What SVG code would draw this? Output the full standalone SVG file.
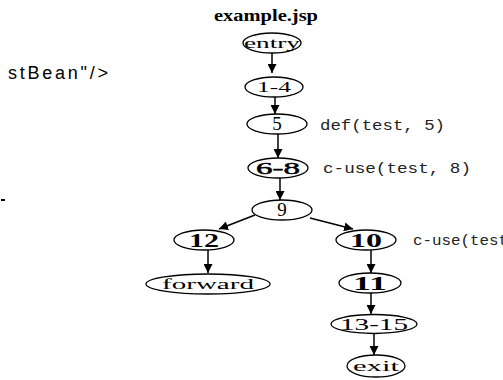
<svg xmlns="http://www.w3.org/2000/svg" width="503" height="380" viewBox="0 0 503 380">
<style>
  .node ellipse { fill: #fff; stroke: #000; stroke-width: 1.3; }
  .nl { font-family: "Liberation Serif", "Times New Roman", serif; font-size: 15px; text-anchor: middle; fill: #000; }
  .nb { font-family: "Liberation Serif", "Times New Roman", serif; font-size: 18px; font-weight: bold; text-anchor: middle; fill: #000; }
  .nm { font-family: "Liberation Serif", "Times New Roman", serif; font-size: 17px; text-anchor: middle; fill: #000; }
  .big { font-size: 19px; }
  .lab { font-family: "Liberation Mono", "Courier New", monospace; font-size: 15px; fill: #222; }
  .edge { stroke: #000; stroke-width: 1.5; fill: none; marker-end: url(#ah); }
</style>
<defs>
  <marker id="ah" viewBox="0 0 10 10" refX="10" refY="5" markerWidth="9" markerHeight="9" markerUnits="userSpaceOnUse" orient="auto">
    <path d="M0,0 L10,5 L0,10 z" fill="#000"/>
  </marker>
</defs>
<rect width="503" height="380" fill="#fff"/>
<text x="266" y="21" font-family="Liberation Serif, serif" font-size="16" font-weight="bold" text-anchor="middle" textLength="104" lengthAdjust="spacingAndGlyphs">example.jsp</text>
<text x="8" y="79" font-family="Liberation Sans, Arial, sans-serif" font-size="18" textLength="100" lengthAdjust="spacing">stBean"/&gt;</text>
<rect x="1" y="199" width="4" height="2" fill="#000"/>

<g id="connectors">
  <line class="edge" x1="272" y1="53" x2="272" y2="73"/>
  <line class="edge" x1="275" y1="97" x2="275" y2="114"/>
  <line class="edge" x1="278" y1="134" x2="278" y2="158"/>
  <line class="edge" x1="280" y1="178" x2="280" y2="200"/>
  <line class="edge" x1="255" y1="215" x2="219" y2="229"/>
  <line class="edge" x1="310" y1="218" x2="353" y2="229"/>
  <line class="edge" x1="208" y1="250" x2="208" y2="273"/>
  <line class="edge" x1="371" y1="250" x2="371" y2="273"/>
  <line class="edge" x1="371" y1="293" x2="371" y2="314"/>
  <line class="edge" x1="374" y1="334" x2="374" y2="355"/>
</g>

<g id="n-entry" class="node"><ellipse cx="272" cy="43" rx="29" ry="10"/><text class="nl" x="272" y="48" textLength="56" lengthAdjust="spacingAndGlyphs">entry</text></g>
<g id="n-1-4" class="node"><ellipse cx="274" cy="87" rx="29" ry="10"/><text class="nl" x="274" y="92" textLength="34" lengthAdjust="spacingAndGlyphs">1-4</text></g>
<g id="n-5" class="node"><ellipse cx="277" cy="124" rx="30" ry="10"/><text class="nm big" x="277" y="130">5</text></g>
<g id="n-6-8" class="node"><ellipse cx="278" cy="168" rx="30" ry="10"/><text class="nm" x="278" y="174" stroke="#000" stroke-width="0.5" textLength="44" lengthAdjust="spacingAndGlyphs">6-8</text></g>
<g id="n-9" class="node"><ellipse cx="282" cy="210" rx="30" ry="10"/><text class="nm big" x="282" y="216">9</text></g>
<g id="n-12" class="node"><ellipse cx="204" cy="240" rx="30" ry="10"/><text class="nb" x="204" y="247" textLength="30" lengthAdjust="spacingAndGlyphs">12</text></g>
<g id="n-10" class="node"><ellipse cx="366" cy="240" rx="30" ry="10"/><text class="nb" x="366" y="247" textLength="32" lengthAdjust="spacingAndGlyphs">10</text></g>
<g id="n-forward" class="node"><ellipse cx="208" cy="284" rx="62" ry="10"/><text class="nl" x="208" y="289" textLength="92" lengthAdjust="spacingAndGlyphs">forward</text></g>
<g id="n-11" class="node"><ellipse cx="370" cy="283" rx="31" ry="10"/><text class="nb" x="370" y="290" textLength="34" lengthAdjust="spacingAndGlyphs">11</text></g>
<g id="n-13-15" class="node"><ellipse cx="374" cy="324" rx="43" ry="9.5"/><text class="nm" x="374" y="330" textLength="68" lengthAdjust="spacingAndGlyphs">13-15</text></g>
<g id="n-exit" class="node"><ellipse cx="376" cy="366" rx="29" ry="11"/><text class="nl" x="376" y="371" textLength="46" lengthAdjust="spacingAndGlyphs">exit</text></g>

<text class="lab" x="320" y="130" textLength="125" lengthAdjust="spacingAndGlyphs">def(test, 5)</text>
<text class="lab" x="323" y="173" textLength="148" lengthAdjust="spacingAndGlyphs">c-use(test, 8)</text>
<text class="lab" x="413" y="245" textLength="95" lengthAdjust="spacingAndGlyphs">c-use(test</text>
</svg>
